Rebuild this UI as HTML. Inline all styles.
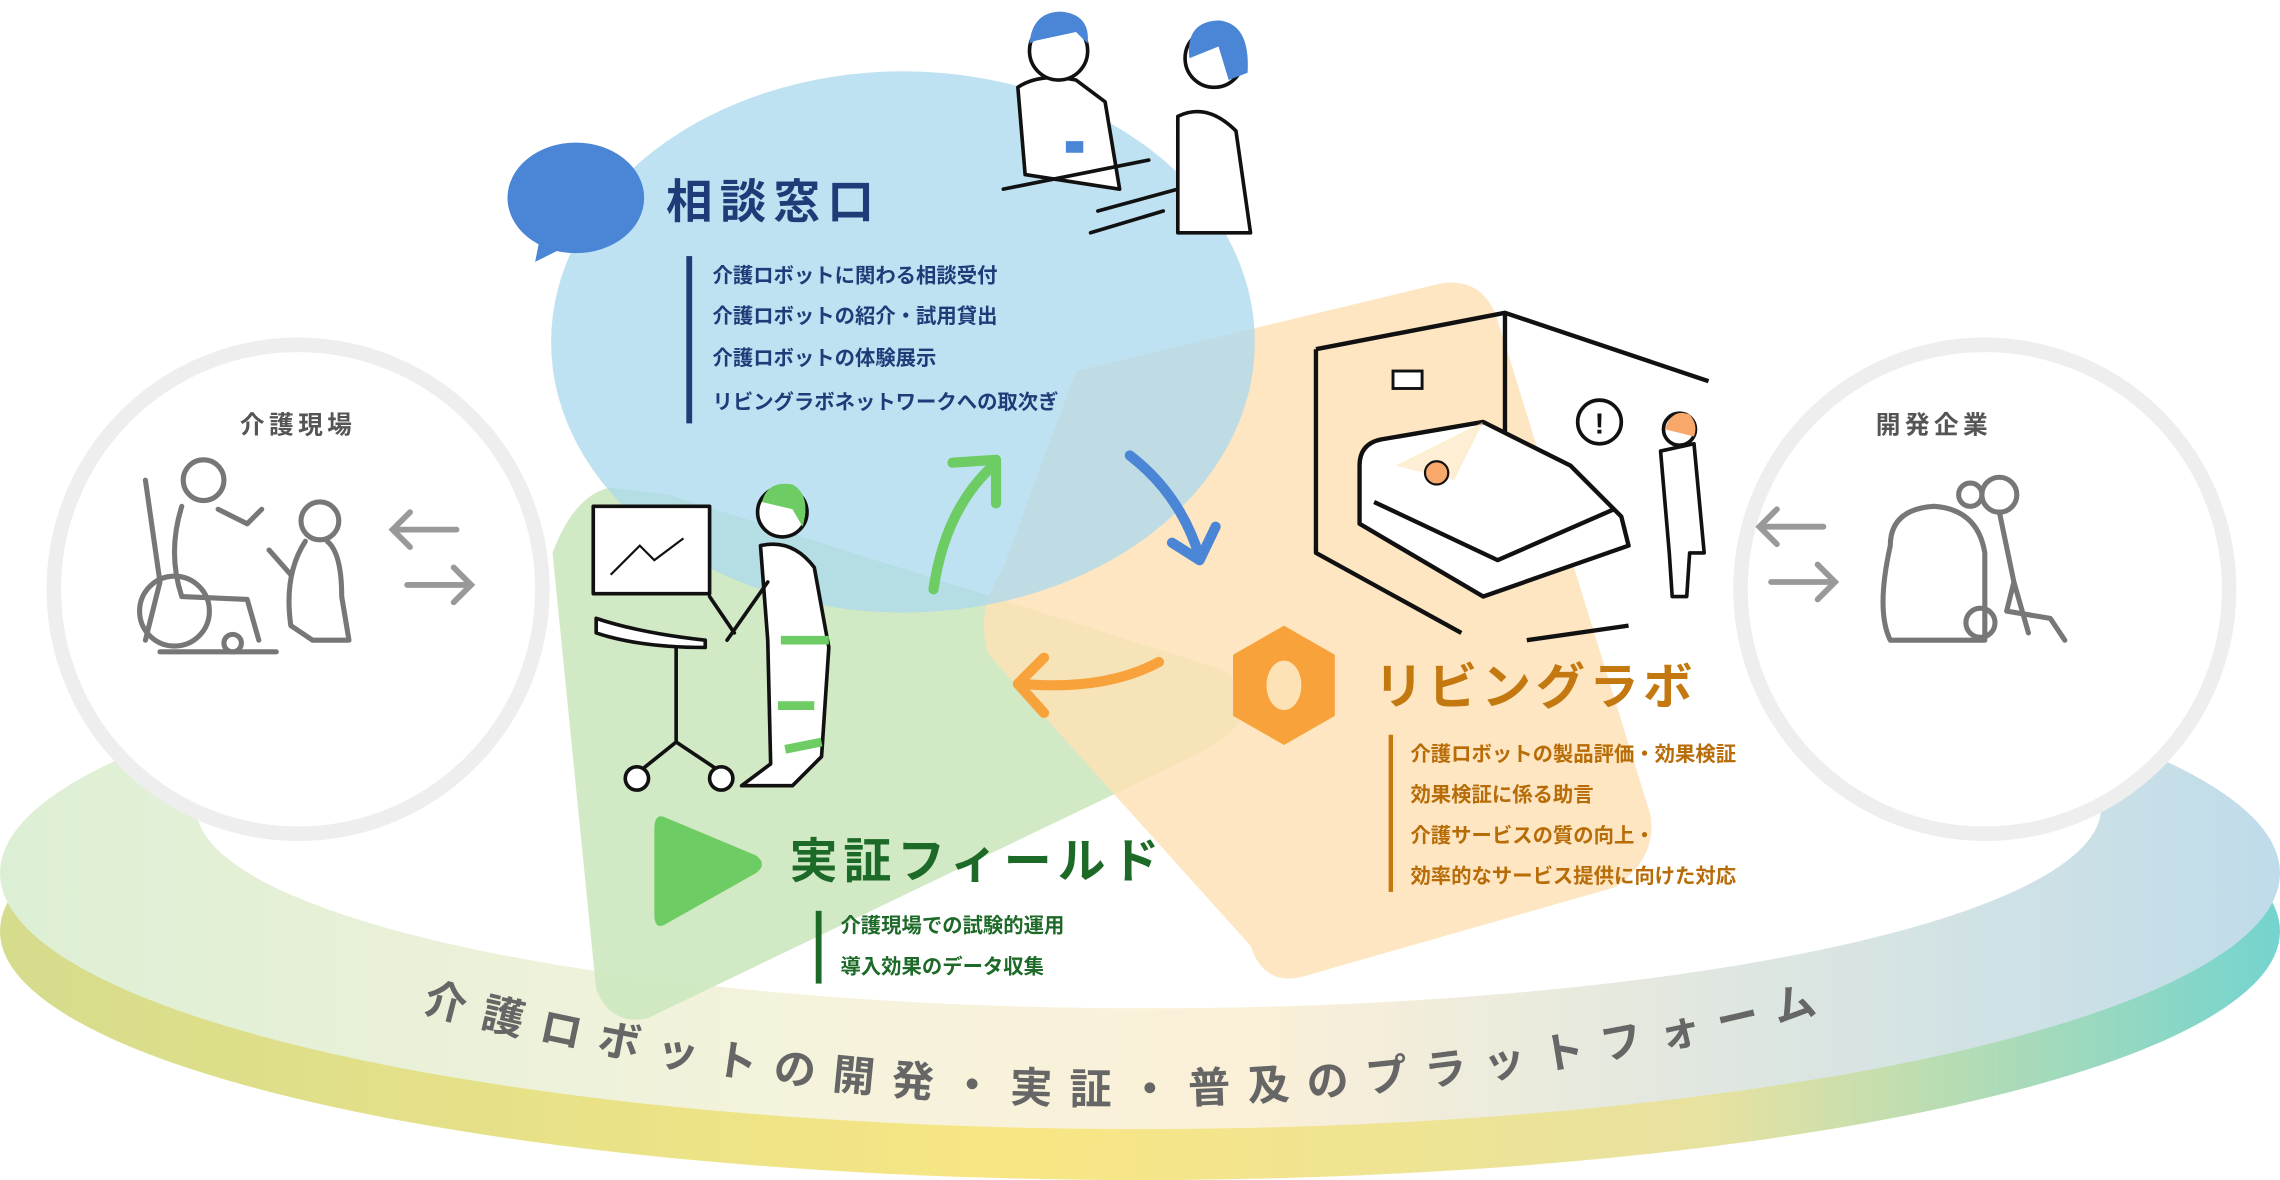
<!DOCTYPE html>
<html><head><meta charset="utf-8"><style>
html,body{margin:0;padding:0;background:#fff;}
svg{display:block;}
text{font-family:"Liberation Sans","Noto Sans CJK JP",sans-serif;font-weight:bold;}
</style></head><body>
<svg width="2280" height="1180" viewBox="0 0 1568 811" preserveAspectRatio="none">
<defs>
<linearGradient id="rim" x1="0" x2="1" y1="0" y2="0">
<stop offset="0" stop-color="#d5dc8c"/><stop offset="0.45" stop-color="#f8e684"/><stop offset="0.75" stop-color="#e8e2a0"/><stop offset="1" stop-color="#74d4cf"/></linearGradient>
<linearGradient id="top" x1="0" x2="1" y1="0" y2="0">
<stop offset="0" stop-color="#dcefd4"/><stop offset="0.35" stop-color="#f5f3dc"/><stop offset="0.55" stop-color="#fbf0d8"/><stop offset="1" stop-color="#bfdcea"/></linearGradient>
<path id="arc" d="M 290 695 Q 775 825 1275 690"/>
</defs>
<!-- platform -->
<ellipse cx="784" cy="640" rx="784" ry="171" fill="url(#rim)"/>
<ellipse cx="784" cy="600" rx="784" ry="176" fill="url(#top)"/>
<ellipse cx="790" cy="555" rx="655" ry="138" fill="#fff"/>
<!-- blobs -->
<path d="M420 335 Q395 340 380 380 L410 680 Q420 705 445 700 L820 520 Q880 490 840 460 L460 340 Z" fill="#cfe8c1" opacity="0.95"/>
<path d="M740 255 L990 195 Q1020 190 1030 220 L1135 560 Q1140 590 1110 610 L900 670 Q870 680 860 650 L680 450 Q670 420 690 390 Z" fill="#fde2b6" opacity="0.85"/>
<ellipse cx="621" cy="235" rx="242" ry="186" fill="#a9d8ef" opacity="0.75"/>
<!-- side circles -->
<circle cx="205" cy="405" r="168" fill="#fff" stroke="#eeeeee" stroke-width="10"/>
<circle cx="1365" cy="405" r="168" fill="#fff" stroke="#eeeeee" stroke-width="10"/>
<text x="205" y="298" font-size="17" fill="#555" text-anchor="middle" letter-spacing="3">介護現場</text>
<text x="1330" y="298" font-size="17" fill="#555" text-anchor="middle" letter-spacing="3">開発企業</text>
<g stroke="#999" stroke-width="4" fill="none" stroke-linecap="round">
<path d="M270 364 H314 M282 352 L270 364 L282 376"/>
<path d="M280 402 H324 M312 390 L324 402 L312 414"/>
<path d="M1210 362 H1254 M1222 350 L1210 362 L1222 374"/>
<path d="M1218 400 H1262 M1250 388 L1262 400 L1250 412"/>
</g>
<!-- left illustration (wheelchair) -->
<g stroke="#777" stroke-width="3.5" fill="none" stroke-linecap="round" stroke-linejoin="round">
<circle cx="140" cy="330" r="14"/>
<path d="M125 348 Q115 380 125 410 L170 412 L178 440"/>
<path d="M100 330 L110 400 L100 440 M150 350 L170 360 L180 350"/>
<circle cx="120" cy="420" r="24"/><circle cx="160" cy="442" r="6"/>
<path d="M110 448 L190 448"/>
<circle cx="220" cy="358" r="13"/>
<path d="M210 372 Q195 395 200 430 L215 440 L240 440 L235 410 Q235 380 225 372 M200 395 L185 378"/>
</g>
<!-- right illustration (robot) -->
<g stroke="#777" stroke-width="3.5" fill="none" stroke-linecap="round" stroke-linejoin="round">
<path d="M1300 375 Q1300 350 1330 348 Q1360 350 1365 380 L1365 440 L1300 440 Q1290 420 1300 375 Z"/>
<circle cx="1362" cy="428" r="10"/>
<circle cx="1375" cy="340" r="12"/><circle cx="1355" cy="340" r="8"/>
<path d="M1375 352 L1385 400 L1380 420 L1410 425 L1420 440 M1385 400 L1395 435"/>
</g>
<!-- speech bubble -->
<ellipse cx="396" cy="136" rx="47" ry="38" fill="#4a86d5"/>
<path d="M372 160 L368 180 L392 168 Z" fill="#4a86d5"/>
<text x="458" y="150" font-size="32" fill="#1e3d78" letter-spacing="5">相談窓口</text>
<rect x="472" y="176" width="4" height="115" fill="#1e3d78"/>
<g font-size="14" fill="#1e3d78">
<text x="490" y="194">介護ロボットに関わる相談受付</text>
<text x="490" y="222">介護ロボットの紹介・試用貸出</text>
<text x="490" y="251">介護ロボットの体験展示</text>
<text x="490" y="281">リビングラボネットワークへの取次ぎ</text>
</g>
<!-- counter people -->
<g stroke="#111" stroke-width="2.5" fill="#fff" stroke-linejoin="round" stroke-linecap="round">
<path d="M705 120 L700 60 Q715 50 740 55 L760 70 L770 130 Z"/>
<circle cx="728" cy="35" r="20"/>
<path d="M810 160 L810 80 Q830 70 850 90 L860 160 Z"/>
<circle cx="835" cy="40" r="20"/>
<path d="M690 130 L790 110 M755 145 L810 130 M750 160 L800 145" fill="none"/>
</g>
<path d="M708 30 Q710 8 730 8 Q750 10 748 30 L740 22 L712 28 Z" fill="#4a86d5"/>
<path d="M818 40 Q815 15 838 14 Q860 16 858 50 L845 55 L838 32 Z" fill="#4a86d5"/>
<rect x="733" y="97" width="12" height="8" fill="#4a86d5"/>
<!-- green walker man -->
<g stroke="#111" stroke-width="2.5" fill="#fff" stroke-linejoin="round" stroke-linecap="round">
<rect x="408" y="348" width="80" height="60"/>
<path d="M410 425 Q440 435 485 440 L485 445 Q440 445 410 435 Z"/>
<path d="M465 445 L465 510 L440 530 M465 510 L495 530 M488 410 L505 435" fill="none"/>
<circle cx="438" cy="535" r="8"/><circle cx="496" cy="535" r="8"/>
<path d="M523 375 Q545 370 560 390 L570 445 L565 520 L545 540 L510 540 L530 525 L528 440 Z"/>
<circle cx="538" cy="352" r="17"/>
<path d="M528 400 L500 440" fill="none"/>
</g>
<path d="M524 345 Q528 330 545 333 Q558 340 552 362 L545 350 Z" fill="#6dcc63"/>
<path d="M537 440 L570 440 M535 485 L560 485 M540 515 L565 510" stroke="#6dcc63" stroke-width="6"/>
<path d="M420 395 L440 375 L450 385 L470 370" stroke="#111" stroke-width="1.5" fill="none"/>
<!-- bedroom -->
<g stroke="#111" stroke-width="3" fill="none" stroke-linejoin="round">
<path d="M905 240 L1035 215 L1175 262"/>
<path d="M905 240 L905 380 L1005 435 M1035 215 L1035 330"/>
<path d="M1120 430 L1050 440"/>
<path d="M935 320 Q935 305 950 302 L1020 290 L1080 320 L1115 355 L1120 375 L1020 410 L935 360 Z" fill="#fff"/>
<path d="M945 345 L1030 385 L1110 350"/>
</g>
<path d="M960 320 L1000 330 L1020 290 Z" fill="#fde2b6" opacity="0.6"/>
<rect x="958" y="255" width="20" height="12" fill="#fff" stroke="#111" stroke-width="2"/>
<circle cx="988" cy="325" r="8" fill="#f7a86a" stroke="#111" stroke-width="1.5"/>
<circle cx="1100" cy="290" r="15" fill="#fff" stroke="#111" stroke-width="2.5"/>
<text x="1100" y="298" font-size="20" text-anchor="middle" fill="#111">!</text>
<g stroke="#111" stroke-width="2.5" fill="#fff" stroke-linejoin="round">
<path d="M1142 310 L1165 305 L1172 380 L1162 380 L1160 410 L1150 410 L1148 380 Z"/>
<circle cx="1155" cy="295" r="11"/>
</g>
<path d="M1145 295 Q1150 280 1162 285 Q1168 292 1165 300 Z" fill="#f7a86a"/>
<!-- arrows -->
<g fill="none" stroke-width="7" stroke-linecap="round" stroke-linejoin="round">
<path d="M642 405 Q650 350 683 320" stroke="#6dcc63"/>
<path d="M655 318 L685 316 L685 346" stroke="#6dcc63"/>
<path d="M777 313 Q812 340 825 383" stroke="#4a86d5"/>
<path d="M806 373 L825 385 L836 362" stroke="#4a86d5"/>
<path d="M797 455 Q760 475 702 470" stroke="#f8a23c"/>
<path d="M718 452 L700 470 L718 490" stroke="#f8a23c"/>
</g>
<!-- living lab -->
<path d="M883 430 L918 450 L918 492 L883 512 L848 492 L848 450 Z" fill="#f8a23c"/>
<ellipse cx="883" cy="471" rx="12" ry="17" fill="#fde2b6"/>
<text x="945" y="484" font-size="34" fill="#c47810" letter-spacing="3">リビングラボ</text>
<rect x="955" y="505" width="3" height="108" fill="#c47810"/>
<g font-size="14" fill="#b86c08">
<text x="970" y="523">介護ロボットの製品評価・効果検証</text>
<text x="970" y="551">効果検証に係る助言</text>
<text x="970" y="579">介護サービスの質の向上・</text>
<text x="970" y="607">効率的なサービス提供に向けた対応</text>
</g>
<!-- field -->
<path d="M458 562 Q450 558 450 570 L450 628 Q450 640 458 635 L520 600 Q528 594 520 588 Z" fill="#6dcc63"/>
<text x="543" y="603" font-size="33" fill="#1d6a28" letter-spacing="4">実証フィールド</text>
<rect x="561" y="626" width="4" height="50" fill="#1d6a28"/>
<g font-size="14" fill="#1d6a28">
<text x="578" y="641">介護現場での試験的運用</text>
<text x="578" y="669">導入効果のデータ収集</text>
</g>
<text font-size="29" fill="#666" letter-spacing="12"><textPath href="#arc" startOffset="0">介護ロボットの開発・実証・普及のプラットフォーム</textPath></text>
</svg>
</body></html>
